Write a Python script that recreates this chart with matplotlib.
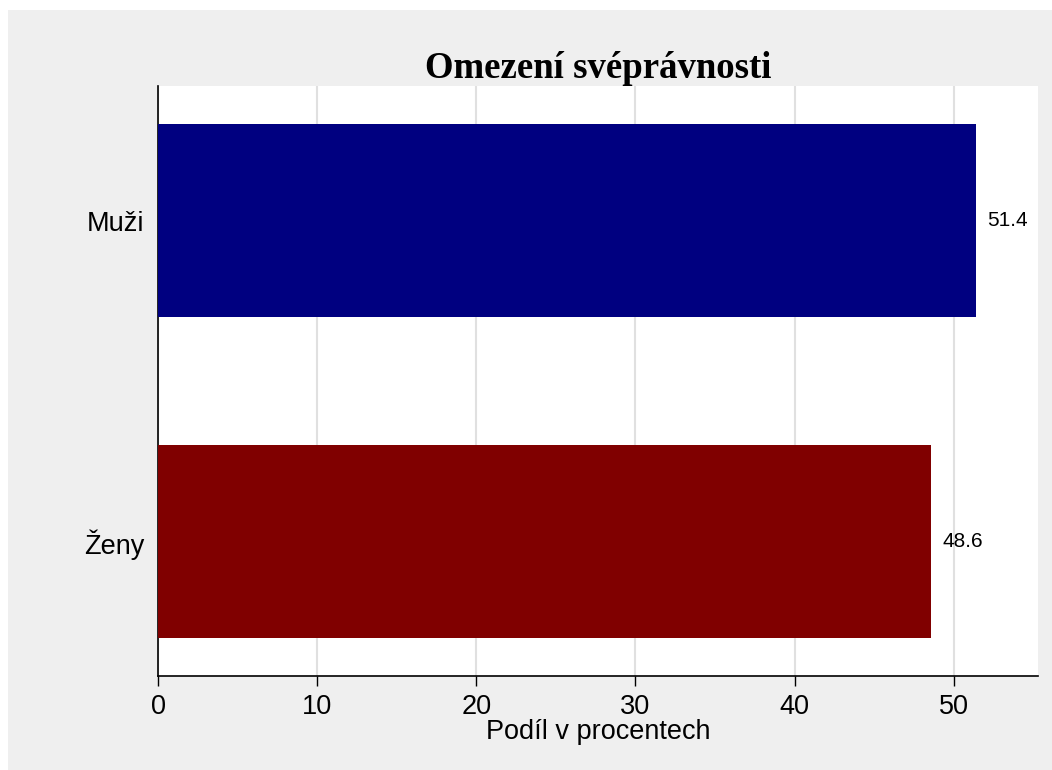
import matplotlib.pyplot as plt
from matplotlib.patches import Rectangle

categories = ['Ženy', 'Muži']
values = [48.6, 51.4]
colors = ['#800000', '#000080']
xticks = [0, 10, 20, 30, 40, 50]

plt.rcParams['font.family'] = ['Liberation Sans', 'DejaVu Sans']

fig = plt.figure(figsize=(10.52, 7.70), dpi=100, facecolor='white')
fig.patches.append(Rectangle((8 / 1052, 0), 1, 1 - 10 / 770, transform=fig.transFigure,
                             facecolor='#efefef', edgecolor='none', zorder=-10))

ax = fig.add_axes([158 / 1052, 1 - 676 / 770, 880 / 1052, 590 / 770])
ax.set_facecolor('white')

ypos = list(range(len(categories)))
ax.barh(ypos, values, height=0.6, color=colors, zorder=3)

for y, v in zip(ypos, values):
    ax.text(v + 0.7, y, f'{v:.1f}', va='center', ha='left', fontsize=15)

ax.set_xlim(0, 55.3)
ax.set_ylim(-0.42, 1.42)
ax.set_yticks(ypos)
ax.set_yticklabels(categories, fontsize=19.5)
ax.set_xticks(xticks)
ax.set_xticklabels([str(t) for t in xticks], fontsize=19.5)
ax.tick_params(axis='y', length=0, pad=10)
ax.tick_params(axis='x', length=7, width=1, direction='out', pad=6)
ax.xaxis.grid(True, color='#e0e0e0', linewidth=1.5, zorder=0)
ax.set_axisbelow(True)

for s in ['top', 'right']:
    ax.spines[s].set_visible(False)
ax.spines['left'].set_linewidth(1.2)
ax.spines['bottom'].set_linewidth(1.2)

ax.set_xlabel('Podíl v procentech', fontsize=19.5, labelpad=-1)
ax.set_title('Omezení svéprávnosti', fontsize=26.5, fontweight='bold',
             family=['Liberation Serif', 'DejaVu Serif'], pad=4)

fig.savefig('out.png', dpi=100, facecolor=fig.get_facecolor())
